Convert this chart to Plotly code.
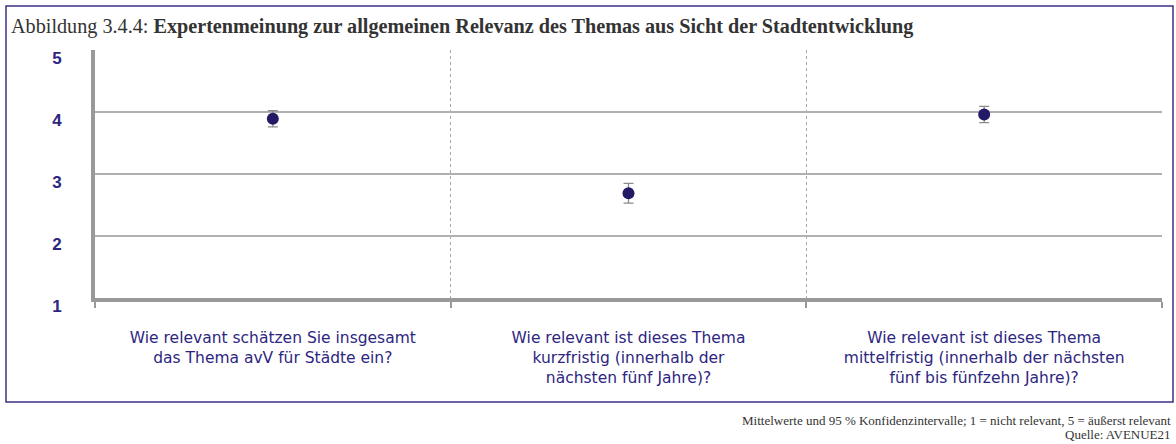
import plotly.graph_objects as go

categories = [
    "Wie relevant schätzen Sie insgesamt<br>das Thema avV für Städte ein?",
    "Wie relevant ist dieses Thema<br>kurzfristig (innerhalb der<br>nächsten fünf Jahre)?",
    "Wie relevant ist dieses Thema<br>mittelfristig (innerhalb der nächsten<br>fünf bis fünfzehn Jahre)?",
]
means = [3.89, 2.69, 3.96]
ci_half = [0.13, 0.16, 0.13]
y_ticks = [1, 2, 3, 4, 5]

W, H = 1176, 444
L, R, T, B = 95, W - 1162, 50, H - 298
pw, ph = W - L - R, H - T - B

def px(x):
    return (x - L) / pw

def py(y):
    return (H - B - y) / ph

xpos = list(range(len(categories)))

fig = go.Figure()
fig.add_trace(go.Scatter(
    x=xpos, y=means, mode="markers",
    marker=dict(size=12, color="#231a66"),
    error_y=dict(type="data", array=ci_half, visible=True,
                 color="#8c8c8c", thickness=1.3, width=5),
    showlegend=False, hoverinfo="y",
))

fig.update_layout(
    width=W, height=H,
    margin=dict(l=L, r=R, t=T, b=B, pad=0),
    paper_bgcolor="white", plot_bgcolor="white",
    font=dict(family="DejaVu Sans, Arial", color="#2d2680"),
    xaxis=dict(
        range=[-0.5, len(categories) - 0.5],
        tickvals=xpos, ticktext=categories,
        showgrid=False, zeroline=False,
        showline=True, linecolor="#999999", linewidth=4,
        ticks="", ticklabelstandoff=22,
        tickfont=dict(size=15.5, color="#2d2680", family="DejaVu Sans"),
        minor=dict(tickvals=[-0.5, 0.5, 1.5, 2.5], showgrid=True,
                   gridcolor="#a8a8a8", gridwidth=1, griddash="dot",
                   ticks="outside", ticklen=6, tickcolor="#999999", tickwidth=2),
        fixedrange=True,
    ),
    yaxis=dict(
        range=[1, 5], tickvals=y_ticks,
        showgrid=True, gridcolor="#b0b0b0", gridwidth=2,
        zeroline=False,
        showline=True, linecolor="#999999", linewidth=4,
        ticks="", ticklabelstandoff=26, ticklabelshift=8,
        tickfont=dict(size=17, color="#2d2680", family="Liberation Sans, Arial", weight="bold"),
        fixedrange=True,
    ),
)

# outer frame
fig.add_shape(type="rect", xref="paper", yref="paper",
              x0=px(6), x1=px(1173), y0=py(402), y1=py(6),
              line=dict(color="#3a3186", width=1.5), fillcolor="rgba(0,0,0,0)", layer="below")

fig.add_annotation(
    xref="paper", yref="paper", x=px(9), y=py(26), xanchor="left", yanchor="middle",
    text="Abbildung 3.4.4: <b>Expertenmeinung zur allgemeinen Relevanz des Themas aus Sicht der Stadtentwicklung</b>",
    showarrow=False, font=dict(family="Liberation Serif, Times New Roman", size=20.2, color="#333333"),
)
foot_font = dict(family="Liberation Serif, Times New Roman", size=13, color="#333333")
fig.add_annotation(
    xref="paper", yref="paper", x=px(1173), y=py(420), xanchor="right", yanchor="middle",
    text="Mittelwerte und 95 % Konfidenzintervalle; 1 = nicht relevant, 5 = äußerst relevant",
    showarrow=False, font=foot_font,
)
fig.add_annotation(
    xref="paper", yref="paper", x=px(1173), y=py(435), xanchor="right", yanchor="middle",
    text="Quelle: AVENUE21",
    showarrow=False, font=foot_font,
)

fig.write_html("out.html", post_script="document.body.style.margin='0';",
               config={"displayModeBar": False})
